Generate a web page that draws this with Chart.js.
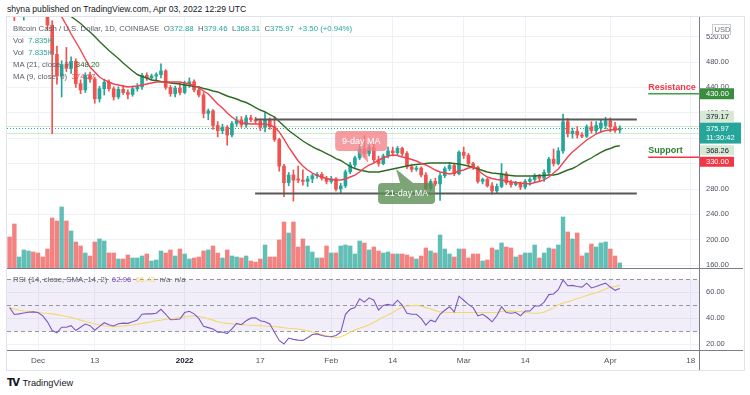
<!DOCTYPE html>
<html><head><meta charset="utf-8">
<script src="https://cdn.jsdelivr.net/npm/chart.js@4.4.1/dist/chart.umd.min.js"></script>
<style>
html,body{margin:0;padding:0;background:#fff;width:750px;height:395px;overflow:hidden;font-family:"Liberation Sans",Arial,sans-serif;}
#frame{position:absolute;left:6px;top:16px;width:737px;height:353px;border:1px solid #e0e3eb;}
#cA{position:absolute;left:7px;top:17px;}
#cB{position:absolute;left:7px;top:269px;}
.sep{position:absolute;background:#7b7e87;}
.hdr{position:absolute;left:7px;top:4px;font-size:8.6px;color:#131722;white-space:pre;}
.lg{position:absolute;left:13px;font-size:7.8px;line-height:12px;color:#5d606b;white-space:pre;}
.t{color:#26a69a}
.logo{position:absolute;left:7px;top:377px;font-size:9.2px;color:#131722;white-space:pre;}
.logo b{font-family:"DejaVu Sans",sans-serif;font-weight:900;font-size:10px;letter-spacing:-1.5px;margin-right:4px;}
</style></head>
<body>
<div id="frame"></div>
<canvas id="cA" width="736" height="252"></canvas>
<canvas id="cB" width="736" height="101"></canvas>
<div class="sep" style="left:7px;top:268px;width:736px;height:1px"></div>
<div class="sep" style="left:7px;top:350px;width:736px;height:1px"></div>
<div class="sep" style="left:699px;top:17px;width:1px;height:353px"></div>
<div class="hdr">shyna published on TradingView.com, Apr 03, 2022 12:29 UTC</div>
<div class="lg" style="top:23px">Bitcoin Cash / U.S. Dollar, 1D, COINBASE  O<span class="t">372.88</span>  H<span class="t">379.46</span>  L<span class="t">368.31</span>  C<span class="t">375.97</span>  <span class="t">+3.50 (+0.94%)</span></div>
<div class="lg" style="top:35px">Vol  <span class="t">7.835K</span></div>
<div class="lg" style="top:47px">Vol  <span class="t">7.835K</span></div>
<div class="lg" style="top:59px">MA (21, close, 9)  <span style="color:#2f6b25">348.20</span></div>
<div class="lg" style="top:71px">MA (9, close, 0)  <span style="color:#f0424f">374.27</span></div>
<div class="lg" style="top:274px">RSI (14, close, SMA, 14, 2)  <span style="color:#7e57c2">62.96</span>  <span style="color:#f3d86b">65.43</span>  n/a  n/a</div>
<div class="logo"><b>TV</b>TradingView</div>
<script>
// ---------------- DATA ----------------
const startDate = '2021-11-25'; // first daily candle, one candle per day
const opens = [598,585,556,563,572,590,
582,576,566,538,492,458,476,470,481,446,
436,459,453,422,438,448,438,425,437,432,
429,438,441,459,455,458,460,466,440,430,
439,432,446,449,436,428,399,403,380,372,
377,365,383,389,381,392,389,387,377,388,
378,358,316,290,302,296,294,292,296,301,
303,297,292,296,280,285,307,318,329,343,
336,345,326,320,332,340,337,344,336,315,
311,313,302,281,292,288,301,312,317,304,
338,333,320,314,292,295,285,277,284,304,
290,287,289,283,292,295,301,297,306,327,
320,340,386,367,371,365,363,378,372,376,
380,387,378,372.88];
const highs = [612,590,570,575,598,605,
602,584,572,545,505,482,503,488,485,452,
463,464,456,442,453,452,441,441,443,436,
442,446,462,463,461,463,477,468,443,442,
447,450,455,452,441,432,406,405,386,382,
380,386,394,394,396,396,393,390,401,392,
394,360,319,306,310,316,310,300,304,306,
306,300,300,298,289,310,322,332,350,364,
349,352,332,335,346,346,347,346,339,318,
316,315,306,295,297,305,315,322,320,340,
346,336,322,316,297,297,290,288,320,307,
294,292,291,295,298,304,303,310,330,343,
345,398,391,376,378,369,381,386,386,388,
393,392,385,379.46];
const lows = [580,545,552,546,568,572,
570,560,530,367,445,425,465,462,440,430,
432,448,415,417,428,434,420,422,429,422,
426,434,437,451,452,450,455,437,426,425,
428,430,440,433,425,392,389,374,362,367,
349,362,379,377,377,386,383,372,370,374,
355,308,268,285,261,290,286,284,290,297,
294,288,289,277,274,282,304,314,326,330,
332,322,316,318,329,332,334,332,312,307,
308,299,276,278,285,262,298,309,301,302,
328,317,311,289,288,283,272,273,282,287,
283,285,279,280,286,290,293,292,303,316,
318,336,362,360,360,361,361,368,368,370,
375,370,369,368.31];
const closes = [585,556,563,572,590,582,
576,566,538,492,458,476,470,481,446,436,
459,453,422,438,448,438,425,437,432,429,
438,441,459,455,458,460,466,440,430,439,
432,446,449,436,428,399,403,380,372,377,
365,383,389,381,392,389,387,377,388,378,
358,316,290,302,294,294,292,296,301,303,
297,292,296,280,285,307,318,329,343,336,
345,326,320,332,340,337,344,336,315,311,
313,302,281,292,288,301,312,317,304,338,
333,320,314,292,295,285,277,284,304,290,
287,289,283,292,295,301,297,306,327,320,
340,386,367,371,365,363,378,372,380,384,
387,378,372.47,375.97];
const volumes = [41.6,58.5,15.6,24.7,23.4,22.1,
20.8,15.6,26,66.3,62.4,80.6,62.4,49.4,35.1,29.9,20.8,16.9,35.1,39,36.4,20.8,20.8,13,13,18.2,14.3,14.3,16.9,19.5,10.4,11.7,23.4,20.8,24.7,16.9,26,
19.5,13,14.3,15.6,23.4,24.7,29.9,20.8,14.3,24.7,16.9,15.6,14.3,16.9,10.4,9.1,13,31.2,15.6,15.6,37.7,61.1,46.8,61.1,28.6,39,29.9,22.1,14.3,14.3,29.9,
20.8,20.8,29.9,31.2,29.9,19.5,36.4,33.8,24.7,28.6,23.4,20.8,22.1,19.5,19.5,19.5,18.2,15.6,13,16.9,27.3,23.4,20.8,44.2,26,19.5,15.6,26,
26,14.3,19.5,19.5,10.4,11.7,27.3,24.7,33.8,28.6,27.3,15.6,18.2,20.8,20.8,31.2,14.3,20.8,27.3,26,31.2,67.6,48.1,39,46.8,16.9,20.8,32.5,28.6,33.8,35.1,
26,16.9,7.835];
const ma9 = [null,null,null,null,null,null,null,null,null,null,
562,551,538.3,524.1,511.5,498.9,
484.7,472.1,464.3,456.4,451.7,448.5,445.4,443.8,442.2,440.6,
441.4,442.2,443.8,445.4,446.9,448.5,448.5,448.5,448.5,448.5,
448.5,446.9,445.4,443,439.1,434.3,429.6,421.7,413.9,407.6,
399.7,393.4,387.9,383.9,383.1,382.4,382.4,382.4,382.4,380.8,
377.6,369.8,358.7,346.1,335.1,324.1,316.2,309.9,305.2,301.3,
298.9,296.5,295,294.2,294.2,295.8,298.9,302,306.8,313.1,
317.8,320.9,325.7,328.8,332,333.5,332.8,330.4,328.8,326.5,
324.1,320.9,317.8,313.9,309.9,306.8,305.2,303.6,305.2,308.3,
309.9,313.1,314.6,309.9,303.6,298.9,296.5,295,294.2,292.6,
291,290.2,289.4,288.7,287.9,290.2,291.8,294.2,298.9,305.2,
311.5,320.9,330.4,338.3,344.6,350.9,357.2,361.9,366.6,369.8,
372.1,372.9,373.7,374.27];
const ma21 = [null,null,null,null,null,null,null,null,null,null,null,null,
560,551.7,546.1,540.6,
533.5,527.2,520.2,512.3,505.2,498.1,491.8,485.5,478.4,472.1,
465.8,460.3,457.2,454.8,451.7,450.9,449.3,448.5,446.9,446.1,
445.4,443.8,443,441.4,440.6,438.3,436.7,434.3,432.8,429.6,
426.5,424.1,421.7,418.6,416.2,412.3,408.3,404.4,401.3,397.3,
393.4,386.3,379.2,372.1,366.6,361.1,355.6,350.9,346.9,343,
339.8,335.9,332,328,324.9,320.2,315.4,312.3,309.9,308.3,
306.8,306.8,306.8,308.3,309.9,311.5,313.1,314.6,316.2,317.8,
318.6,319.4,320.2,321,321,321,321,321,320.2,319.4,
317.8,316.2,313.9,311.5,309.1,306.8,305.2,304.4,303.6,302,
301.3,300.5,300.5,300.5,300.5,300.5,301.3,301.3,302,302,
303.6,306.8,309.9,312.3,316.2,321,324.9,328.8,333.5,337.5,
341.4,343.8,346.9,348.2];
const rsi = [48.2,42.9,43.4,44.1,44.6,44.9,
44.4,41.9,37.3,30.6,28.8,33.1,33.1,34.3,30.6,33.1,
35.6,34.3,30.8,33.8,36.6,35.1,34.1,35.8,36.3,36.1,
37.3,38.6,43.1,43.4,43.4,43.9,46.9,43.1,38.9,39.1,
39.4,44.4,45.4,43.4,39.9,33.8,32.8,31.8,29.3,29.5,
28.3,31.8,36.1,35.1,38.1,40.1,40.4,38.1,37.3,35.6,
29.3,23.0,20.2,24.8,23.8,23.2,23.0,25.0,27.5,28.0,
26.8,26.0,25.8,26.8,29.3,43.1,46.9,48.2,55.0,52.4,
55.7,53.9,46.4,49.9,50.7,49.9,53.9,50.2,43.9,43.1,
43.1,39.9,34.8,38.6,37.3,43.1,46.2,48.9,44.9,57.0,
53.9,50.7,48.2,41.9,43.1,40.6,37.3,41.9,48.9,44.4,
43.9,44.4,41.9,45.6,45.6,49.4,49.4,52.4,58.2,58.7,
62.0,69.5,65.0,65.3,64.5,64.0,67.0,63.3,64.5,65.8,
67.0,64.0,61.5,62.96];
const rsiSma = [48.2,47.2,46.4,45.6,45.3,44.9,
44.5,44.1,43.9,43.4,42.8,42.1,41.4,40.7,39.7,38.6,
37.6,36.7,35.8,34.8,34.3,33.9,33.6,33.8,34.1,34.5,
34.8,35.3,36.1,36.7,37.3,38.1,38.6,39.2,39.6,40.1,
40.6,41.1,41.6,41.9,41.4,40.6,39.6,38.6,37.3,36.6,
36.1,35.7,35.5,35.2,34.8,34.7,34.5,34.3,34.1,33.9,
33.7,33.2,32.7,32.3,32.1,31.8,31.3,30.3,29.4,28.5,
27.5,26.8,25.8,25.0,25.8,27.3,29.3,31.1,32.3,33.6,
35.1,36.8,38.9,40.9,42.6,44.4,46.7,48.4,49.4,49.7,
49.9,49.2,48.2,47.2,45.9,44.9,44.6,44.4,44.4,44.4,
44.4,44.4,44.4,44.4,44.4,44.4,44.4,44.4,45.2,45.6,
45.5,45.3,45.2,44.7,44.1,43.9,43.9,44.6,46.4,48.2,
50.4,51.7,52.7,53.9,55.2,56.2,57.5,58.7,59.7,61.0,
62.5,63.8,64.5,65.43];
const priceTicks = [160,200,240,280,320,360,400,440,480,520];
const rsiTicks = [20,40,60];
const rsiLevels = [70,50,30];
const tickDates = ['2021-12-01','2021-12-13','2022-01-01','2022-01-17','2022-02-01','2022-02-14','2022-03-01','2022-03-14','2022-04-01','2022-04-18'];
const tickLabels = ['Dec','13','2022','17','Feb','14','Mar','14','Apr','18'];
const channelDays = [51.9, 132.6];      // day offsets from startDate
const channelTop = 389.4, channelBottom = 272.9;
const levelDays = [135, 145.75];
const resistance = 430, support = 330;
const lastHigh = 379.17, lastClose = 375.97, lastLow = 368.26;
const noteTips = [{text:'9-day MA', day:75.8, price:320.9}, {text:'21-day MA', day:81.7, price:311.5}];

// ---------------- CHART ----------------
Chart.defaults.font.family = "'Liberation Sans', Arial, sans-serif";
const t0 = Date.parse(startDate + 'T00:00:00Z');
const dayIndex = s => (Date.parse(s + 'T00:00:00Z') - t0) / 86400000;
const tickPos = tickDates.map(dayIndex);
const idx = closes.map((_, i) => i);
const up = idx.map(i => closes[i] >= opens[i]);
const X_MIN = -0.554, X_MAX = 145.746;
const GRID = '#eef1f6';
const UPC = '#26a69a', DNC = '#ef5350';

function xScaleCfg(showLabels) {
  return {
    type: 'linear', min: X_MIN, max: X_MAX, offset: false,
    afterBuildTicks: s => { s.ticks = tickPos.map(v => ({value: v})); },
    grid: {color: GRID, drawTicks: false, offset: false},
    border: {display: false},
    ticks: showLabels ? {
      autoSkip: false, maxRotation: 0, padding: 5,
      callback: (v, i) => tickLabels[i],
      color: c => (c.index === 2 ? '#131722' : '#50535e'),
      font: c => ({size: 8, weight: c.index === 2 ? 'bold' : 'normal'})
    } : {display: false},
    afterFit: s => { s.height = showLabels ? 19 : 0; s.paddingLeft = 0; s.paddingRight = 0; }
  };
}
function yRight(min, max, ticks) {
  return {
    type: 'linear', position: 'right', min, max,
    afterBuildTicks: s => { s.ticks = ticks.map(v => ({value: v})); },
    grid: {color: GRID, drawTicks: false},
    border: {display: false},
    ticks: {color: '#4c525e', font: {size: 7.5}, padding: 7, autoSkip: false, callback: v => Number(v).toFixed(2)},
    afterFit: s => { s.width = 44; s.paddingTop = 0; s.paddingBottom = 0; }
  };
}
function lineDs(data, color, width, order, extra) {
  return Object.assign({type: 'line', data, borderColor: color, borderWidth: width, pointRadius: 0, order, tension: 0, spanGaps: false}, extra || {});
}

function roundRect(ctx, x, y, w, h, r) {
  ctx.beginPath();
  ctx.moveTo(x + r, y); ctx.lineTo(x + w - r, y); ctx.quadraticCurveTo(x + w, y, x + w, y + r);
  ctx.lineTo(x + w, y + h - r); ctx.quadraticCurveTo(x + w, y + h, x + w - r, y + h);
  ctx.lineTo(x + r, y + h); ctx.quadraticCurveTo(x, y + h, x, y + h - r);
  ctx.lineTo(x, y + r); ctx.quadraticCurveTo(x, y, x + r, y);
  ctx.closePath();
}

const overlayA = {
  id: 'overlayA',
  beforeDatasetsDraw(chart) {
    const {ctx, chartArea: a, scales: {y}} = chart;
    ctx.save();
    ctx.lineWidth = 1;
    ctx.strokeStyle = 'rgba(76,175,80,0.28)';
    [lastHigh, lastLow].forEach(p => {
      const py = Math.round(y.getPixelForValue(p)) + 0.5;
      ctx.beginPath(); ctx.moveTo(a.left, py); ctx.lineTo(a.right, py); ctx.stroke();
    });
    ctx.setLineDash([1, 2]);
    ctx.strokeStyle = '#26a69a';
    const pc = Math.round(y.getPixelForValue(lastClose)) + 0.5;
    ctx.beginPath(); ctx.moveTo(a.left, pc); ctx.lineTo(a.right, pc); ctx.stroke();
    ctx.restore();
  },
  afterDatasetsDraw(chart) {
    const {ctx, scales: {x, y}} = chart;
    ctx.save();
    // callouts
    const styles = [
      {fill: 'rgba(243,128,137,0.78)', box: [-33, -32, 52, 20], tail: [[-11, -12], [-1, -12]]},
      {fill: 'rgba(90,140,82,0.78)', box: [-18, 14, 57, 21], tail: [[4, 14], [17, 14]]}
    ];
    noteTips.forEach((n, k) => {
      const tx = x.getPixelForValue(n.day), ty = y.getPixelForValue(n.price);
      const st = styles[k];
      ctx.fillStyle = st.fill;
      roundRect(ctx, tx + st.box[0], ty + st.box[1], st.box[2], st.box[3], 4);
      ctx.fill();
      ctx.beginPath();
      ctx.moveTo(tx + st.tail[0][0], ty + st.tail[0][1]);
      ctx.lineTo(tx + st.tail[1][0], ty + st.tail[1][1]);
      ctx.lineTo(tx, ty); ctx.closePath(); ctx.fill();
      ctx.fillStyle = '#ffffff';
      ctx.font = "9px 'Liberation Sans', Arial, sans-serif";
      ctx.textAlign = 'center'; ctx.textBaseline = 'middle';
      ctx.fillText(n.text, tx + st.box[0] + st.box[2] / 2, ty + st.box[1] + st.box[3] / 2 + 0.5);
    });
    // resistance / support captions
    ctx.font = "bold 9px 'Liberation Sans', Arial, sans-serif";
    ctx.textAlign = 'left'; ctx.textBaseline = 'middle';
    const lx = x.getPixelForValue(levelDays[0]);
    ctx.fillStyle = '#f23645';
    ctx.fillText('Resistance', lx, y.getPixelForValue(resistance) - 6.5);
    ctx.fillStyle = '#2e7d32';
    ctx.fillText('Support', lx, y.getPixelForValue(support) - 7);
    ctx.restore();
  },
  afterDraw(chart) {
    const {ctx, chartArea: a, scales: {y}} = chart;
    ctx.save();
    ctx.font = "7.5px 'Liberation Sans', Arial, sans-serif";
    ctx.textBaseline = 'middle'; ctx.textAlign = 'left';
    const bx = a.right;
    const boxes = [
      {v: resistance, dy: 0, h: 11, w: 35, bg: '#388e3c', fg: '#fff', lines: ['430.00']},
      {v: lastHigh, dy: -9.7, h: 11, w: 35, bg: '#d6e9d5', fg: '#131722', lines: ['379.17']},
      {v: lastLow, dy: 17.3, h: 10, w: 35, bg: '#d6e9d5', fg: '#131722', lines: ['368.26']},
      {v: support, dy: 4.5, h: 10, w: 35, bg: '#f23645', fg: '#fff', lines: ['330.00']}
    ];
    boxes.forEach(b => {
      const cy = y.getPixelForValue(b.v) + b.dy;
      ctx.fillStyle = b.bg;
      ctx.fillRect(bx, cy - b.h / 2, b.w, b.h);
      ctx.fillStyle = b.fg;
      ctx.fillText(b.lines[0], bx + 7, cy + 0.5);
    });
    // last price box with countdown
    const cy = y.getPixelForValue(lastClose);
    ctx.fillStyle = '#26a69a';
    ctx.fillRect(bx, cy - 5.5, 42, 21);
    ctx.fillStyle = '#fff';
    ctx.fillText(lastClose.toFixed(2), bx + 7, cy + 0.5);
    ctx.fillText('11:30:42', bx + 7, cy + 10);
    // currency tag
    ctx.fillStyle = '#fff';
    ctx.strokeStyle = '#c9ccd4';
    ctx.lineWidth = 1;
    ctx.fillRect(705.5, 7.5, 18, 10);
    ctx.strokeRect(705.5, 7.5, 18, 10);
    ctx.fillStyle = '#6a6d78';
    ctx.fillText('USD', 707.5, 12.8);
    ctx.restore();
  }
};

new Chart(document.getElementById('cA'), {
  type: 'bar',
  data: {
    datasets: [
      lineDs(idx.map(i => ({x: i, y: ma9[i]})), '#f0424f', 1.4, 0),
      lineDs(idx.map(i => ({x: i, y: ma21[i]})), '#2f6b25', 1.4, 1),
      lineDs(channelDays.map(d => ({x: d, y: channelTop})), '#595959', 2, 0),
      lineDs(channelDays.map(d => ({x: d, y: channelBottom})), '#595959', 2, 0),
      lineDs(levelDays.map(d => ({x: d, y: resistance})), '#43a047', 1.5, 0),
      lineDs(levelDays.map(d => ({x: d, y: support})), '#f23645', 1.5, 0),
      {type: 'bar', data: idx.map(i => ({x: i, y: [Math.min(opens[i], closes[i]), Math.max(opens[i], closes[i])]})),
        backgroundColor: up.map(u => u ? UPC : DNC), barThickness: 3, grouped: false, minBarLength: 1, order: 3},
      {type: 'bar', data: idx.map(i => ({x: i, y: [lows[i], highs[i]]})),
        backgroundColor: up.map(u => u ? UPC : DNC), barThickness: 1, grouped: false, order: 4},
      {type: 'bar', yAxisID: 'yv', data: idx.map(i => ({x: i, y: volumes[i]})),
        backgroundColor: up.map(u => u ? 'rgba(38,166,154,0.72)' : 'rgba(239,83,80,0.72)'), barThickness: 3.8, grouped: false, order: 6}
    ]
  },
  options: {
    responsive: false, animation: false, layout: {padding: 0},
    plugins: {legend: {display: false}, tooltip: {enabled: false}},
    scales: {
      x: xScaleCfg(false),
      y: yRight(154.02, 550.87, priceTicks),
      yv: {type: 'linear', display: false, min: 0, max: 327.6}
    }
  },
  plugins: [overlayA]
});

const overlayB = {
  id: 'overlayB',
  beforeDatasetsDraw(chart) {
    const {ctx, chartArea: a, scales: {y}} = chart;
    ctx.save();
    const yt = y.getPixelForValue(rsiLevels[0]), yb = y.getPixelForValue(rsiLevels[2]);
    ctx.fillStyle = 'rgba(126,87,194,0.1)';
    ctx.fillRect(a.left, yt, a.right - a.left, yb - yt);
    ctx.strokeStyle = '#9598a1';
    ctx.lineWidth = 1;
    ctx.setLineDash([4, 3]);
    rsiLevels.forEach(l => {
      const py = Math.round(y.getPixelForValue(l)) + 0.5;
      ctx.beginPath(); ctx.moveTo(a.left, py); ctx.lineTo(a.right, py); ctx.stroke();
    });
    ctx.restore();
  }
};

new Chart(document.getElementById('cB'), {
  type: 'line',
  data: {
    datasets: [
      lineDs(idx.map(i => ({x: i, y: rsi[i]})), '#7e57c2', 1.1, 0),
      lineDs(idx.map(i => ({x: i, y: rsiSma[i]})), '#f3d86b', 1.1, 1)
    ]
  },
  options: {
    responsive: false, animation: false, layout: {padding: 0},
    plugins: {legend: {display: false}, tooltip: {enabled: false}},
    scales: {
      x: xScaleCfg(true),
      y: yRight(14.85, 77.9, rsiTicks)
    }
  },
  plugins: [overlayB]
});
</script>
</body></html>
